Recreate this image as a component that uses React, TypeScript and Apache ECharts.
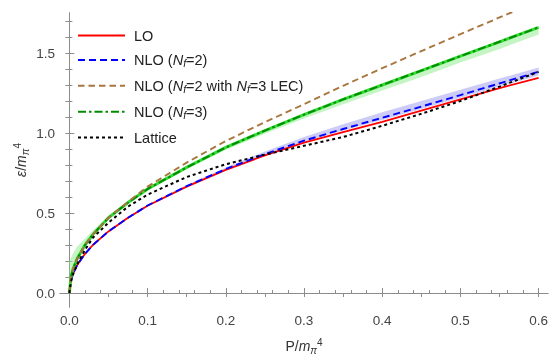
import React, { useEffect, useRef } from 'react';
import * as echarts from 'echarts';

// ---- data ----
const P = [0, 0.002, 0.005, 0.01, 0.02, 0.03, 0.05, 0.075, 0.1, 0.15, 0.2, 0.25, 0.3, 0.35, 0.4, 0.45, 0.5, 0.55, 0.6];
const LO = [0, 0.08, 0.125, 0.175, 0.245, 0.3, 0.385, 0.47, 0.545, 0.665, 0.77, 0.86, 0.94, 1.005, 1.07, 1.14, 1.21, 1.28, 1.345];
const NLO2 = [0, 0.08, 0.125, 0.175, 0.245, 0.3, 0.385, 0.47, 0.547, 0.668, 0.775, 0.868, 0.952, 1.025, 1.095, 1.165, 1.237, 1.31, 1.383];
const NLO2_LEC3 = [0, 0.1, 0.155, 0.215, 0.3, 0.365, 0.47, 0.57, 0.665, 0.815, 0.95, 1.068, 1.18, 1.295, 1.405, 1.512, 1.618, 1.722, 1.826];
const NLO3 = [0, 0.1, 0.155, 0.215, 0.3, 0.365, 0.47, 0.565, 0.65, 0.785, 0.91, 1.015, 1.115, 1.21, 1.3, 1.39, 1.48, 1.57, 1.66];
const LATTICE = [0, 0.07, 0.12, 0.18, 0.27, 0.345, 0.44, 0.54, 0.615, 0.725, 0.805, 0.865, 0.92, 0.975, 1.045, 1.12, 1.2, 1.29, 1.382];

const NLO3_LOW = [0, 0.1, 0.155, 0.215, 0.3, 0.365, 0.465, 0.56, 0.645, 0.775, 0.895, 0.995, 1.09, 1.18, 1.265, 1.35, 1.44, 1.525, 1.615];
const NLO3_HIGH = [0.2, 0.22, 0.25, 0.29, 0.34, 0.39, 0.48, 0.575, 0.66, 0.79, 0.915, 1.02, 1.12, 1.215, 1.305, 1.395, 1.485, 1.575, 1.665];

const NLO2_LOW = [0, 0.08, 0.125, 0.175, 0.245, 0.3, 0.385, 0.47, 0.545, 0.665, 0.77, 0.862, 0.945, 1.015, 1.082, 1.15, 1.22, 1.29, 1.36];
const NLO2_HIGH = [0, 0.08, 0.125, 0.175, 0.245, 0.3, 0.385, 0.472, 0.552, 0.675, 0.785, 0.885, 0.975, 1.055, 1.13, 1.2, 1.27, 1.34, 1.41];

const X_MAJOR = [0, 0.1, 0.2, 0.3, 0.4, 0.5, 0.6];
const X_MINOR = [0.02, 0.04, 0.06, 0.08, 0.12, 0.14, 0.16, 0.18, 0.22, 0.24, 0.26, 0.28, 0.32, 0.34, 0.36, 0.38, 0.42, 0.44, 0.46, 0.48, 0.52, 0.54, 0.56, 0.58];
const X_TOP = [0, 0.05, 0.1, 0.15, 0.2, 0.25, 0.3, 0.35, 0.4, 0.45, 0.5, 0.55, 0.6];
const Y_MAJOR = [0, 0.5, 1.0, 1.5];
const Y_MINOR = [0.1, 0.2, 0.3, 0.4, 0.6, 0.7, 0.8, 0.9, 1.1, 1.2, 1.3, 1.4, 1.6, 1.7];
const Y_RIGHT = [0, 0.1, 0.2, 0.3, 0.4, 0.5, 0.6, 0.7, 0.8, 0.9, 1.0, 1.1, 1.2, 1.3, 1.4, 1.5, 1.6, 1.7];

const X_MIN = -0.012;
const X_MAX = 0.612;
const Y_MIN = -0.0875;
const Y_MAX = 1.75;

const FONT = "'Liberation Sans', Arial, sans-serif";
const FRAME = '#8c8c8c';
const TICKTXT = '#444';

const pairs = (xs: number[], ys: number[]) => xs.map((x, i) => [x, ys[i]]);

function band(name: string, lo: number[], hi: number[], color: string) {
  return {
    type: 'custom',
    name,
    silent: true,
    z: 1,
    data: [0],
    renderItem: (_params: any, api: any) => {
      const pts: number[][] = [];
      for (let i = 0; i < P.length; i++) pts.push(api.coord([P[i], hi[i]]));
      for (let i = P.length - 1; i >= 0; i--) pts.push(api.coord([P[i], lo[i]]));
      return { type: 'polygon', shape: { points: pts }, style: { fill: color } };
    },
  };
}

function line(name: string, ys: number[], color: string, width: number, type: any, z = 3) {
  return {
    type: 'line',
    name,
    data: pairs(P, ys),
    symbol: 'none',
    z,
    lineStyle: { color, width, type },
    itemStyle: { color },
  };
}

const richBase = {
  t: { fontSize: 14.5, lineHeight: 18, fontFamily: FONT, color: '#222' },
  i: { fontSize: 14.5, lineHeight: 18, fontFamily: FONT, fontStyle: 'italic', color: '#222' },
  s: { fontSize: 10.5, lineHeight: 10, fontFamily: FONT, fontStyle: 'italic', verticalAlign: 'bottom', color: '#222' },
  sup: { fontSize: 10.5, lineHeight: 10, fontFamily: FONT, verticalAlign: 'top', color: '#222' },
};

const legendFmt: Record<string, string> = {
  'LO': '{t|LO}',
  'NLO (Nf=2)': '{t|NLO (}{i|N}{s|f}{t|=2)}',
  'NLO (Nf=2 with Nf=3 LEC)': '{t|NLO (}{i|N}{s|f}{t|=2 with }{i|N}{s|f}{t|=3 LEC)}',
  'NLO (Nf=3)': '{t|NLO (}{i|N}{s|f}{t|=3)}',
  'Lattice': '{t|Lattice}',
};

export default function App() {
  const ref = useRef<HTMLDivElement>(null);
  useEffect(() => {
    if (!ref.current) return;
    const chart = echarts.init(ref.current, undefined, { renderer: 'svg' });
    const tickLine = { color: FRAME, width: 1 };
    const xBase = { type: 'value', min: X_MIN, max: X_MAX, splitLine: { show: false } };
    const yBase = { type: 'value', min: Y_MIN, max: Y_MAX, splitLine: { show: false } };
    const nameRich = {
      t: { ...richBase.t, fontSize: 14, color: '#333' },
      i: { ...richBase.i, fontSize: 14, color: '#333' },
      s: { ...richBase.s, fontSize: 10, color: '#333' },
      sup: { ...richBase.sup, fontSize: 10, color: '#333' },
    };
    chart.setOption({
      animation: false,
      grid: { left: 60, right: 1, top: 13, bottom: 47, containLabel: false, outerBoundsMode: 'none' },
      legend: {
        data: ['LO', 'NLO (Nf=2)', 'NLO (Nf=2 with Nf=3 LEC)', 'NLO (Nf=3)', 'Lattice'],
        orient: 'vertical',
        left: 77,
        top: 28,
        padding: 0,
        itemGap: 9.4,
        itemWidth: 47,
        itemHeight: 14,
        selectedMode: false,
        itemStyle: { opacity: 0 },
        formatter: (n: string) => legendFmt[n] || n,
        textStyle: { padding: [0, 0, 0, 4], rich: richBase },
      },
      xAxis: [
        {
          ...xBase,
          position: 'bottom',
          axisLine: { show: true, lineStyle: tickLine },
          axisTick: { show: true, inside: true, length: 5, customValues: X_MAJOR, lineStyle: tickLine },
          axisLabel: {
            customValues: X_MAJOR, margin: 6, color: TICKTXT, fontSize: 13.5, fontFamily: FONT,
            formatter: (v: number) => v.toFixed(1),
          },
          name: '{t|P/}{i|m}{s|π}{sup|4}',
          nameLocation: 'middle',
          nameGap: 30,
          nameMoveOverlap: false,
          nameTextStyle: { rich: nameRich },
        },
        {
          ...xBase,
          position: 'bottom',
          axisLine: { show: false },
          axisTick: { show: true, inside: true, length: 3, customValues: X_MINOR, lineStyle: tickLine },
          axisLabel: { show: false },
        },
        {
          ...xBase,
          position: 'top',
          axisLine: { show: true, lineStyle: tickLine },
          axisTick: { show: true, inside: true, length: 4, customValues: X_TOP, lineStyle: tickLine },
          axisLabel: { show: false },
        },
      ],
      yAxis: [
        {
          ...yBase,
          position: 'left',
          axisLine: { show: true, lineStyle: tickLine },
          axisTick: { show: true, inside: true, length: 5, customValues: Y_MAJOR, lineStyle: tickLine },
          axisLabel: {
            customValues: Y_MAJOR, margin: 5, color: TICKTXT, fontSize: 13.5, fontFamily: FONT,
            formatter: (v: number) => v.toFixed(1),
          },
          name: '{i|ε}{t|/}{i|m}{s|π}{sup|4}',
          nameLocation: 'middle',
          nameGap: 30,
          nameMoveOverlap: false,
          nameTextStyle: { rich: nameRich },
        },
        {
          ...yBase,
          position: 'left',
          axisLine: { show: false },
          axisTick: { show: true, inside: true, length: 3, customValues: Y_MINOR, lineStyle: tickLine },
          axisLabel: { show: false },
        },
        {
          ...yBase,
          position: 'right',
          axisLine: { show: true, lineStyle: tickLine },
          axisTick: { show: true, inside: true, length: 4, customValues: Y_RIGHT, lineStyle: tickLine },
          axisLabel: { show: false },
        },
      ],
      series: [
        band('band3', NLO3_LOW, NLO3_HIGH, 'rgba(150,235,150,0.55)'),
        band('band2', NLO2_LOW, NLO2_HIGH, 'rgba(170,170,240,0.6)'),
        line('LO', LO, '#ff0000', 1.8, 'solid'),
        line('NLO (Nf=2)', NLO2, '#0000ff', 1.9, [7, 4]),
        line('NLO3core', NLO3, '#33dd33', 3, 'solid'),
        line('NLO (Nf=3)', NLO3, '#008c00', 2, [8, 3, 2.5, 3]),
        line('NLO (Nf=2 with Nf=3 LEC)', NLO2_LEC3, '#a8763e', 1.9, [6.5, 4]),
        line('Lattice', LATTICE, '#000000', 2, [3, 3]),
      ],
    });
    return () => chart.dispose();
  }, []);
  return <div ref={ref} style={{ position: 'fixed', left: 0, top: 0, width: 549, height: 354 }} />;
}
